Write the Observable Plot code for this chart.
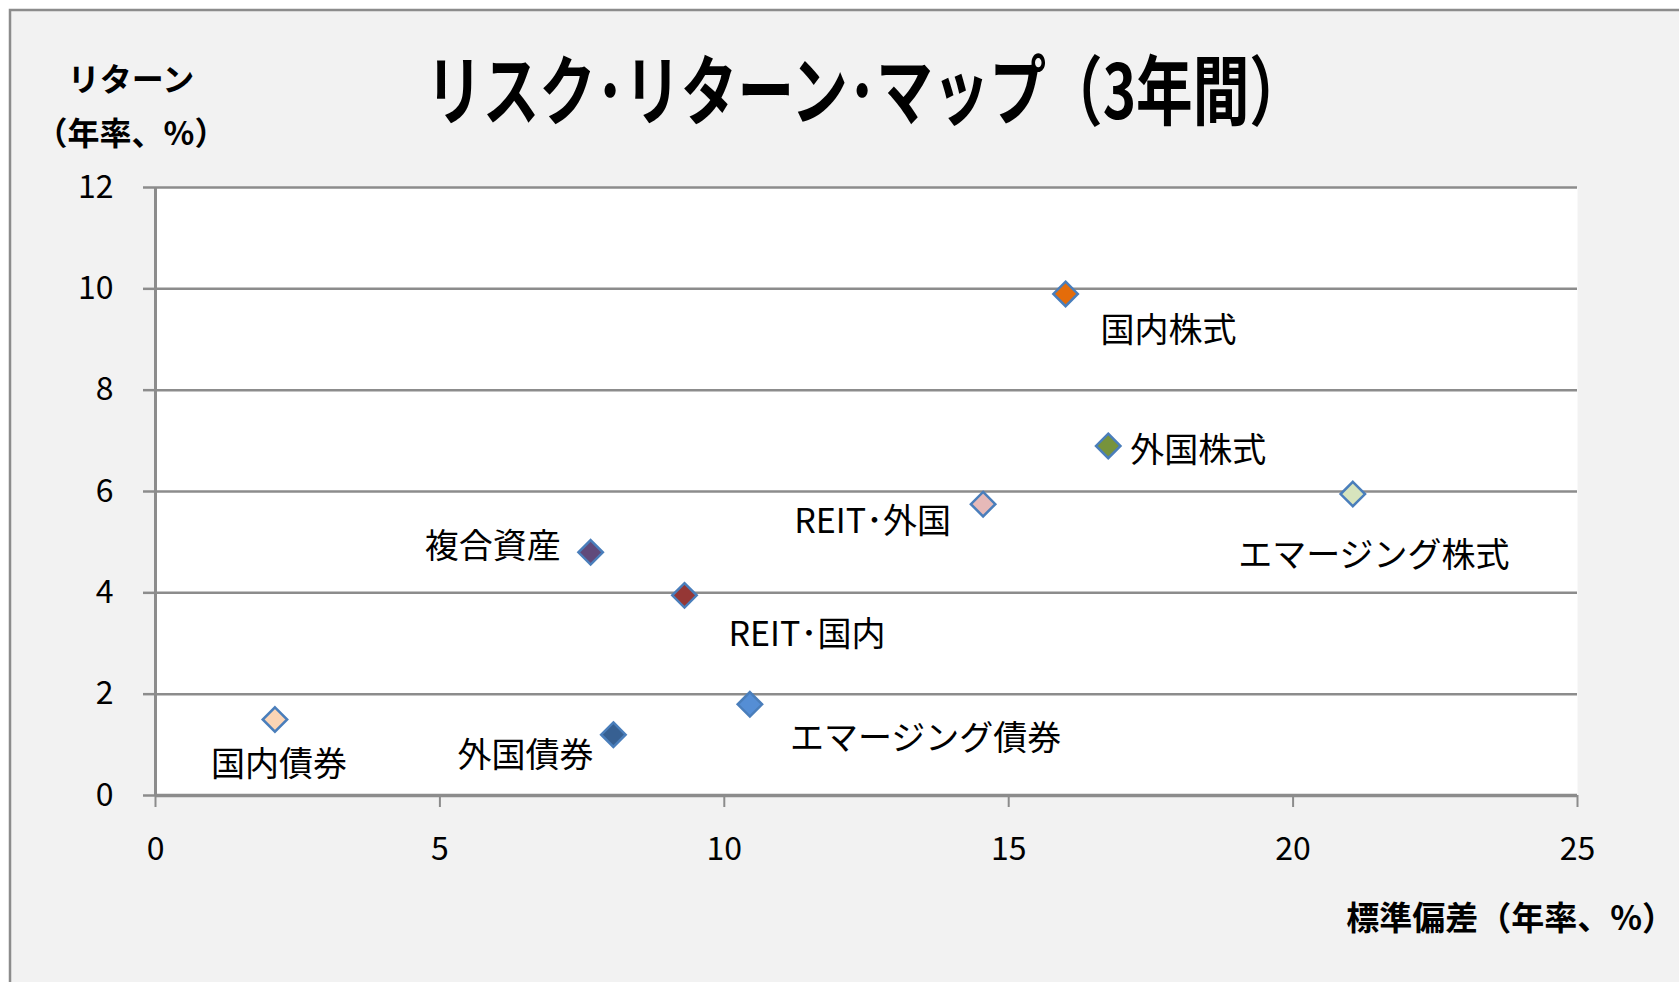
<!DOCTYPE html>
<html>
<head>
<meta charset="utf-8">
<script src="https://cdn.jsdelivr.net/npm/d3@7"></script>
<script src="https://cdn.jsdelivr.net/npm/@observablehq/plot@0.6"></script>
<style>
  html, body { margin: 0; padding: 0; background: #ffffff; overflow: hidden; }
  #chart svg { display: block; }
</style>
</head>
<body>
<div id="chart"></div>
<script>
// ---- data ----
const names  = ["国内株式", "外国株式", "エマージング株式", "REIT･外国", "複合資産", "REIT･国内", "エマージング債券", "外国債券", "国内債券"];
const risk   = [16.0, 16.75, 21.05, 14.55, 7.65, 9.3, 10.45, 8.05, 2.1];   // 標準偏差（年率、%）
const ret    = [9.9, 6.9, 5.95, 5.75, 4.8, 3.95, 1.8, 1.2, 1.5];          // リターン（年率、%）
const colors = ["#E46C0A", "#77933C", "#D7E4BD", "#E6B9B8", "#604A7B", "#953735", "#558ED5", "#376092", "#FCD5B5"];
const xTicks = [0, 5, 10, 15, 20, 25];
const yTicks = [0, 2, 4, 6, 8, 10, 12];
const titleText = "リスク･リターン･マップ（3年間）";
const yLabelLines = ["リターン", "（年率、%）"];
const xLabelText = "標準偏差（年率、%）";

// ---- label layout (pixel offsets, style only) ----
const labelLayout = [
  {dx: 35, dy: 37, anchor: "start"},
  {dx: 22, dy: 5, anchor: "start"},
  {dx: 21, dy: 62, anchor: "middle"},
  {dx: -32, dy: 18, anchor: "end"},
  {dx: -30, dy: -5, anchor: "end"},
  {dx: 44, dy: 40, anchor: "start"},
  {dx: 40, dy: 35, anchor: "start"},
  {dx: -20, dy: 21, anchor: "end"},
  {dx: 4, dy: 46, anchor: "middle"}
];

const data = names.map((n, i) => ({name: n, x: risk[i], y: ret[i], color: colors[i]}));

const W = 1679, H = 982;
const font = "'Noto Sans CJK JP', 'Noto Sans', sans-serif";
const gridColor = "#8c8c8c";

const labelMarks = data.map((d, i) => Plot.text([d], {
  x: "x", y: "y", text: "name",
  dx: labelLayout[i].dx, dy: labelLayout[i].dy,
  textAnchor: labelLayout[i].anchor,
  fontSize: 34, fill: "#000", fontFamily: font
}));

const chart = Plot.plot({
  width: W, height: H,
  marginLeft: 155, marginRight: 102, marginTop: 187, marginBottom: 187,
  style: {fontFamily: font, fontSize: "32px", background: "transparent", color: "#000"},
  x: {domain: [0, 25], label: null},
  y: {domain: [0, 12], label: null},
  marks: [
    Plot.frame({fill: "white", stroke: null}),
    Plot.gridY(yTicks, {stroke: gridColor, strokeWidth: 2.5, strokeOpacity: 1}),
    Plot.axisY(yTicks, {tickSize: 12, tickPadding: 30, stroke: gridColor, strokeWidth: 2.5, fill: "#000", fontSize: 32, label: null, tickFormat: d => String(d)}),
    Plot.axisX(xTicks, {tickSize: 12, tickPadding: 30, stroke: gridColor, strokeWidth: 2, fill: "#000", fontSize: 32, label: null, tickFormat: d => String(d)}),
    Plot.ruleX([0], {stroke: gridColor, strokeWidth: 3}),
    Plot.ruleY([0], {stroke: gridColor, strokeWidth: 3.5}),
    Plot.dot(data, {x: "x", y: "y", fill: "color", symbol: "diamond2", r: 11, stroke: "#4A7EBB", strokeWidth: 2.5}),
    ...labelMarks
  ]
});

document.getElementById("chart").appendChild(chart);

const svg = d3.select(chart);
// outer chart area background + border
svg.insert("rect", ":first-child")
  .attr("x", 10).attr("y", 10).attr("width", W + 20).attr("height", H + 20)
  .attr("fill", "#f2f2f2").attr("stroke", gridColor).attr("stroke-width", 2.5);

// title
const title = svg.append("text")
  .attr("x", 866).attr("y", 86)
  .attr("text-anchor", "middle").attr("dominant-baseline", "central")
  .attr("font-family", font).attr("font-weight", "bold").attr("font-size", 76)
  .attr("fill", "#000")
  .text(titleText);
title.attr("textLength", 880).attr("lengthAdjust", "spacingAndGlyphs");

// y-axis label (two lines)
yLabelLines.forEach((t, i) => {
  svg.append("text")
    .attr("x", 131).attr("y", 77 + i * 54)
    .attr("text-anchor", "middle").attr("dominant-baseline", "central")
    .attr("font-family", font).attr("font-weight", "bold").attr("font-size", 32)
    .attr("fill", "#000")
    .text(t);
});

// x-axis label
svg.append("text")
  .attr("x", 1675).attr("y", 916)
  .attr("text-anchor", "end").attr("dominant-baseline", "central")
  .attr("font-family", font).attr("font-weight", "bold").attr("font-size", 33)
  .attr("fill", "#000")
  .text(xLabelText);
</script>
</body>
</html>
